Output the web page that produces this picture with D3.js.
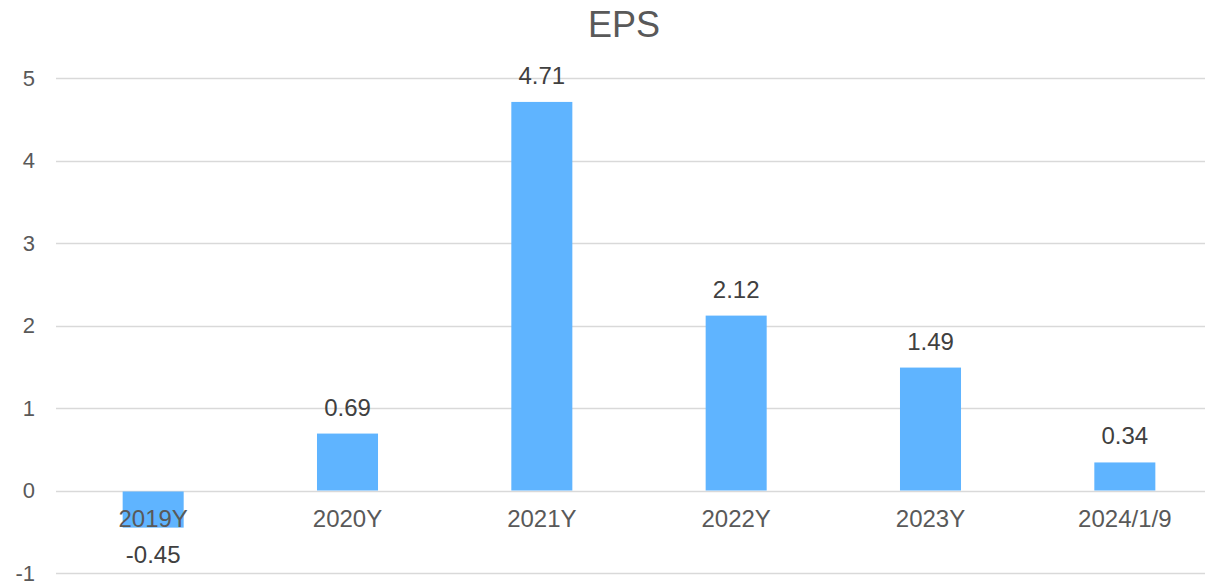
<!DOCTYPE html>
<html>
<head>
<meta charset="utf-8">
<script src="https://cdn.jsdelivr.net/npm/d3@7"></script>
<style>
  html, body { margin: 0; padding: 0; background: #fff; }
  svg { display: block; font-family: "Liberation Sans", Arial, sans-serif; }
</style>
</head>
<body>
<svg id="chart" width="1205" height="582"></svg>
<script>
const categories = ["2019Y", "2020Y", "2021Y", "2022Y", "2023Y", "2024/1/9"];
const epsValues = [-0.45, 0.69, 4.71, 2.12, 1.49, 0.34];
const yTicks = [-1, 0, 1, 2, 3, 4, 5];
const title = "EPS";

const svg = d3.select("#chart");

const x = d3.scaleBand()
  .domain(categories)
  .range([56, 1222])
  .paddingInner(0)
  .paddingOuter(0);

const barW = x.bandwidth() * 0.314;

const y = d3.scaleLinear()
  .domain([-1, 5])
  .range([573, 78]);

// gridlines
svg.append("g")
  .selectAll("line")
  .data(yTicks)
  .join("line")
  .attr("x1", 56)
  .attr("x2", 1222)
  .attr("y1", d => Math.round(y(d)) + 0.5)
  .attr("y2", d => Math.round(y(d)) + 0.5)
  .attr("stroke", "#d9d9d9")
  .attr("stroke-width", 1.3);

// y tick labels
svg.append("g")
  .selectAll("text")
  .data(yTicks)
  .join("text")
  .attr("x", 35)
  .attr("y", d => y(d))
  .attr("dy", "0.36em")
  .attr("text-anchor", "end")
  .attr("font-size", 22)
  .attr("fill", "#595959")
  .text(d => d);

// bars
svg.append("g")
  .selectAll("rect")
  .data(categories)
  .join("rect")
  .attr("x", (d) => x(d) + x.bandwidth() / 2 - barW / 2)
  .attr("width", barW)
  .attr("y", (d, i) => y(Math.max(0, epsValues[i])) + (epsValues[i] < 0 ? 1 : 0))
  .attr("height", (d, i) => Math.abs(y(epsValues[i]) - y(0)) - (epsValues[i] < 0 ? 1 : 0))
  .attr("fill", "#5fb4ff");

// category labels
svg.append("g")
  .selectAll("text")
  .data(categories)
  .join("text")
  .attr("x", d => x(d) + x.bandwidth() / 2)
  .attr("y", 527)
  .attr("text-anchor", "middle")
  .attr("font-size", 24)
  .attr("fill", "#595959")
  .text(d => d);

// data labels
svg.append("g")
  .selectAll("text")
  .data(categories)
  .join("text")
  .attr("x", d => x(d) + x.bandwidth() / 2)
  .attr("y", (d, i) => epsValues[i] >= 0 ? y(epsValues[i]) - 18 : y(epsValues[i]) + 35)
  .attr("text-anchor", "middle")
  .attr("font-size", 24)
  .attr("fill", "#404040")
  .text((d, i) => epsValues[i].toFixed(2));

// title
svg.append("text")
  .attr("x", 624)
  .attr("y", 37)
  .attr("text-anchor", "middle")
  .attr("font-size", 36)
  .attr("fill", "#595959")
  .text(title);
</script>
</body>
</html>
